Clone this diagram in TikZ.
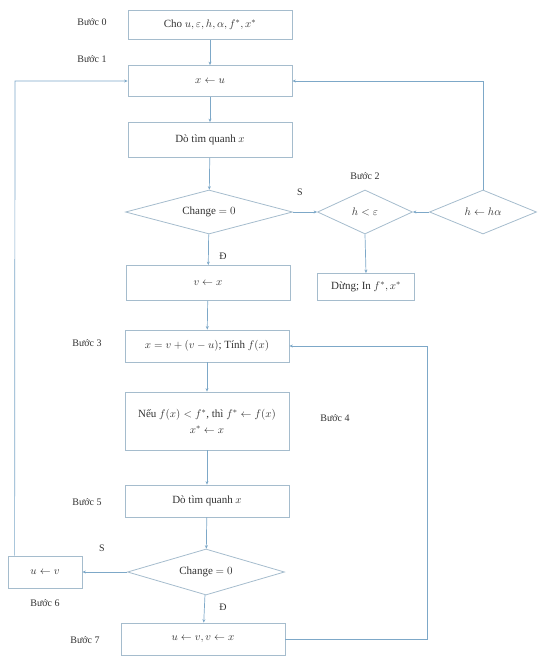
\documentclass[tikz,border=0pt]{standalone}
\usepackage{fontspec}
\setmainfont{Liberation Serif}
\usetikzlibrary{shapes.geometric,arrows.meta}
\definecolor{ln}{RGB}{125,168,200}
\definecolor{bd}{RGB}{165,188,205}
\definecolor{tx}{RGB}{50,50,50}
\begin{document}
\begin{tikzpicture}[x=1pt,y=-1pt,
  font=\fontsize{11}{14}\selectfont, text=tx,
  box/.style={draw=bd, line width=0.8pt, minimum width=164pt, minimum height=32pt, inner sep=1pt, align=center},
  dia/.style={diamond, draw=bd, line width=0.8pt, inner sep=0pt, aspect=3.8},
  lab/.style={font=\fontsize{10}{12}\selectfont},
  arr/.style={draw=ln, line width=0.7pt, -{Stealth[length=3.5pt,width=3pt]}},
  lnk/.style={draw=ln, line width=0.7pt}]
\useasboundingbox (0,0) rectangle (540,656);

% boxes
\node[box, minimum height=29pt] (b0) at (210,25) {Cho $u, \varepsilon, h, \alpha, f^*, x^*$};
\node[box, minimum height=31pt] (b1) at (210,81) {$x \leftarrow u$};
\node[box, minimum height=35pt] (b2) at (210,140) {Dò tìm quanh $x$};
\node[dia, minimum width=167pt, minimum height=44pt] (d1) at (209,212) {Change $=0$};
\node[dia, aspect=2.2, minimum width=95pt, minimum height=44pt] (d2) at (365,212) {$h < \varepsilon$};
\node[dia, aspect=2.4, minimum width=107pt, minimum height=44pt] (d3) at (483,212) {$h \leftarrow h\alpha$};
\node[box, minimum height=35pt] (bv) at (208,283) {$v \leftarrow x$};
\node[box, minimum width=97pt, minimum height=27pt] (stop) at (366,287) {Dừng; In $f^*, x^*$};
\node[box] (b3) at (207,346) {$x = v + (v - u)$; Tính $f(x)$};
\node[box, minimum height=58pt] (b4) at (207,421) {Nếu $f(x) < f^*$, thì $f^* \leftarrow f(x)$\\[2pt] $x^* \leftarrow x$};
\node[box] (b5) at (207,501) {Dò tìm quanh $x$};
\node[dia, minimum width=157pt, minimum height=46pt] (d4) at (206,572) {Change $=0$};
\node[box, minimum width=74pt] (b6) at (45,572) {$u \leftarrow v$};
\node[box] (b7) at (203,639) {$u \leftarrow v, v \leftarrow x$};

% step labels
\node[lab] (l0) at (92,22) {Bước 0};
\node[lab] (l1) at (92,59) {Bước 1};
\node[lab] (l2) at (365,176) {Bước 2};
\node[lab] (l3) at (87,343) {Bước 3};
\node[lab] (l4) at (335,418) {Bước 4};
\node[lab] (l5) at (87,502) {Bước 5};
\node[lab] (l6) at (45,603) {Bước 6};
\node[lab] (l7) at (85,640) {Bước 7};

% branch labels
\node[lab] (s1) at (300,192) {S};
\node[lab] (t1) at (223,256) {Đ};
\node[lab] (s2) at (102,548) {S};
\node[lab] (t2) at (223,607) {Đ};

% main flow
\draw[arr] (b0) -- (b1);
\draw[arr] (b1) -- (b2);
\draw[arr] (b2) -- (d1);
\draw[arr] (d1) -- (bv);
\draw[arr] (bv) -- (b3);
\draw[arr] (b3) -- (b4);
\draw[arr] (b4) -- (b5);
\draw[arr] (b5) -- (d4);
\draw[arr] (d4) -- (b7);

% step 2 branch
\draw[arr] (d1.east) -- (d2.west);
\draw[arr] (d3.west) -- (d2.east);
\draw[arr] (d2.south) -- (stop.north);
\draw[arr] (d3.north) |- (b1.east);

% step 6 branch
\draw[arr] (d4.west) -- (b6.east);
\coordinate (c6) at (15,81);
\draw[arr] ([xshift=7pt]b6.north west) -- (c6) -- (b1.west);

% step 7 loop
\coordinate (c7) at (427,639);
\draw[arr] (b7.east) -- (c7) |- (b3.east);
\end{tikzpicture}
\end{document}
